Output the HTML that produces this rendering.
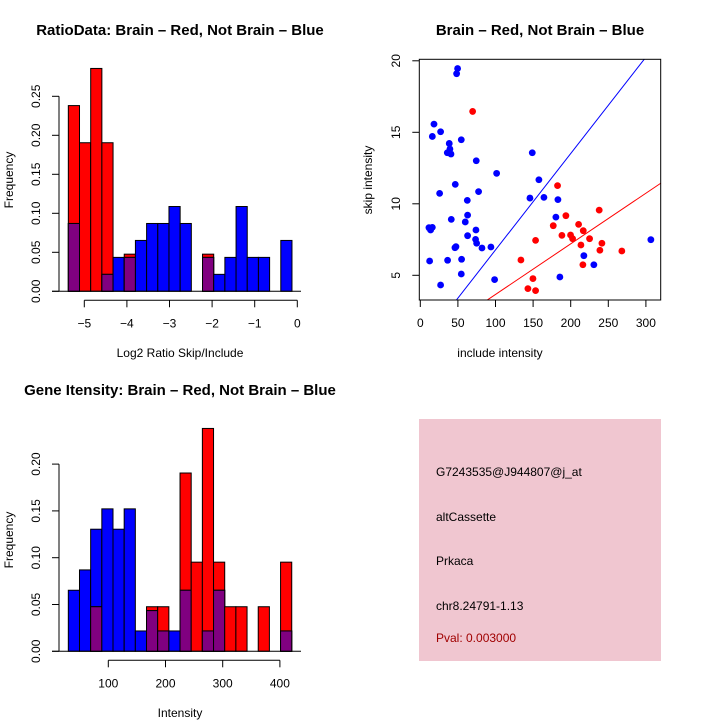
<!DOCTYPE html>
<html><head><meta charset="utf-8"><style>
body{margin:0;background:#fff}
svg{display:block;font-family:"Liberation Sans",sans-serif}
</style></head><body>
<svg id="s" width="720" height="720" viewBox="0 0 720 720">
<text x="180" y="35" font-size="15" font-weight="bold" text-anchor="middle">RatioData: Brain – Red, Not Brain – Blue</text>
<text x="540" y="35" font-size="15" font-weight="bold" text-anchor="middle">Brain – Red, Not Brain – Blue</text>
<text x="180" y="395" font-size="15" font-weight="bold" text-anchor="middle">Gene Itensity: Brain – Red, Not Brain – Blue</text>
<text x="180" y="357" font-size="12" text-anchor="middle">Log2 Ratio Skip/Include</text>
<text x="180" y="717" font-size="12" text-anchor="middle">Intensity</text>
<text x="500" y="357" font-size="12" text-anchor="middle">include intensity</text>
<text transform="translate(13,180) rotate(-90)" font-size="12" text-anchor="middle">Frequency</text>
<text transform="translate(13,540) rotate(-90)" font-size="12" text-anchor="middle">Frequency</text>
<text transform="translate(372,180) rotate(-90)" font-size="12" text-anchor="middle">skip intensity</text>
<rect x="419" y="419" width="242" height="242" fill="#f0c6d0"/>
<g font-size="12">
<text x="436" y="476">G7243535@J944807@j_at</text>
<text x="436" y="521">altCassette</text>
<text x="436" y="565">Prkaca</text>
<text x="436" y="610">chr8.24791-1.13</text>
<text x="436" y="642" fill="#a00000">Pval: 0.003000</text>
</g>
</svg>
<script>
// Ratio histogram data (20 bins)
const ratioBinStart=-5.375, ratioBinWidth=0.2625;
const ratioRed=[5,4,6,4,0,1,0,0,0,0,0,0,1,0,0,0,0,0,0,0].map(v=>v/21);
const ratioBlue=[4,0,0,1,2,2,3,4,4,5,4,0,2,1,2,5,2,2,0,3].map(v=>v/46);
const ratioXTicks=[-5,-4,-3,-2,-1,0];
const ratioYTicks=[0,0.05,0.10,0.15,0.20,0.25];
// Intensity histogram data
const intBinStart=30.1, intBinWidth=19.53;
const intRed=[0,0,1,0,0,0,0,1,1,0,4,2,5,2,1,1,0,1,0,2].map(v=>v/21);
const intBlue=[3,4,6,7,6,7,1,2,1,1,3,0,1,3,0,0,0,0,0,1].map(v=>v/46);
const intXTicks=[100,200,300,400];
const intYTicks=[0,0.05,0.10,0.15,0.20];
// Scatter data
const blueX=[49.6,48.3,18.2,27,16,54.5,38.5,39.4,35.9,40.8,74.4,148.9,101.5,157.7,46.5,25.7,77.5,145.8,164.4,183,62.5,41.2,62.9,59.8,180.3,11.5,16,13.7,74,62.9,73.5,74.9,82,93.9,47.4,46.1,12.4,36.3,54.9,54.5,98.8,27,217.5,230.8,185.6,306.6];
const blueY=[19.46,19.1,15.57,15.04,14.71,14.48,14.22,13.83,13.57,13.48,13.01,13.57,12.13,11.68,11.36,10.73,10.85,10.4,10.45,10.29,10.24,8.91,9.21,8.73,9.07,8.33,8.35,8.17,8.17,7.77,7.51,7.24,6.91,6.98,7.0,6.93,6.0,6.05,6.12,5.09,4.7,4.32,6.37,5.74,4.88,7.49];
const redX=[69.6,182.5,237.9,193.6,176.8,210.5,216.7,188.3,199.8,202.5,225.1,153.3,213.6,241.5,238.8,268,216.2,133.8,149.8,143.1,153.3];
const redY=[16.46,11.27,9.56,9.17,8.47,8.56,8.12,7.79,7.82,7.56,7.56,7.44,7.12,7.24,6.75,6.7,5.74,6.07,4.77,4.07,3.93];
const scatterXTicks=[0,50,100,150,200,250,300];
const scatterYTicks=[5,10,15,20];
const blueFit=[0.0674,0.035], redFit=[0.0354,0.12];

const NS="http://www.w3.org/2000/svg", svg=document.getElementById('s');
function mk(t,a,p){const e=document.createElementNS(NS,t);for(const k in a)e.setAttribute(k,a[k]);(p||svg).appendChild(e);return e;}
function fmt(v){return v===0?"0.00":v.toFixed(2);}

function hist(o){
  const g=mk('g',{});
  
  
  const X=v=>o.x0+(v-o.d0)*o.kx, Y=v=>o.y0-v*o.ky;
  o.red.forEach((r,i)=>{
    const b=o.blue[i], xa=X(o.start+i*o.w), xb=X(o.start+(i+1)*o.w);
    const parts=[];
    if(r>0)parts.push([r,'#ff0000']);
    if(b>0)parts.push([b,'#0000ff']);
    parts.sort((a,c)=>c[0]-a[0]);
    parts.forEach(p=>{
      const e=mk('rect',{x:xa,y:Y(p[0]),width:xb-xa,height:p[0]*o.ky,fill:p[1],stroke:'#000','stroke-width':1},g);
      
      
    });
    if(r>0&&b>0){const m=Math.min(r,b);
      const e=mk('rect',{x:xa,y:Y(m),width:xb-xa,height:m*o.ky,fill:'#800080',stroke:'#000','stroke-width':1},g);
      
      }
  });
  mk('line',{x1:52,x2:301,y1:o.y0,y2:o.y0,stroke:'#000'},g);
  const yt=o.yt;
  mk('line',{x1:59,x2:59,y1:Y(yt[0]),y2:Y(yt[yt.length-1]),stroke:'#000'},g);
  yt.forEach(v=>{mk('line',{x1:52,x2:59,y1:Y(v),y2:Y(v),stroke:'#000'},g);
    const t=mk('text',{transform:`translate(40,${Y(v)}) rotate(-90)`,'font-size':12,'text-anchor':'middle'},g);t.textContent=fmt(v);
    
    });
  const xt=o.xt, ay=o.y0+9;
  mk('line',{x1:X(xt[0]),x2:X(xt[xt.length-1]),y1:ay,y2:ay,stroke:'#000'},g);
  xt.forEach(v=>{mk('line',{x1:X(v),x2:X(v),y1:ay,y2:ay+7,stroke:'#000'},g);
    const t=mk('text',{x:X(v),y:ay+27,'font-size':12,'text-anchor':'middle'},g);t.textContent=String(v).replace('-','−');
    
    });
}
hist({name:'ratio-histogram',red:ratioRed,blue:ratioBlue,start:ratioBinStart,w:ratioBinWidth,x0:297.3,d0:0,kx:42.6,y0:291.3,ky:780,xt:ratioXTicks,yt:ratioYTicks});
hist({name:'intensity-histogram',red:intRed,blue:intBlue,start:intBinStart,w:intBinWidth,x0:108.3,d0:100,kx:0.572,y0:651.3,ky:936,xt:intXTicks,yt:intYTicks});

(function(){
  const g=mk('g',{});
  
  
  const L=419.3,R=660.7,T=59.3,B=300;
  const X=v=>420.3+v*0.752, Y=v=>275.3-(v-5)*14.3;
  const cp=mk('clipPath',{id:'cp'},g);mk('rect',{x:L,y:T,width:R-L,height:B-T},cp);
  [[blueFit,'#0000ff','fit-line-not-brain'],[redFit,'#ff0000','fit-line-brain']].forEach(f=>{
    const e=mk('line',{x1:X(-10),y1:Y(f[0][0]*-10+f[0][1]),x2:X(330),y2:Y(f[0][0]*330+f[0][1]),stroke:f[1],'clip-path':'url(#cp)'},g);
    
    
  });
  blueX.forEach((x,i)=>{const c=mk('circle',{cx:X(x),cy:Y(blueY[i]),r:3.4,fill:'#0000ff'},g);
    
    });
  redX.forEach((x,i)=>{const c=mk('circle',{cx:X(x),cy:Y(redY[i]),r:3.4,fill:'#ff0000'},g);
    
    });
  mk('rect',{x:L,y:T,width:R-L,height:B-T,fill:'none',stroke:'#000'},g);
  scatterXTicks.forEach(v=>{mk('line',{x1:X(v),x2:X(v),y1:B,y2:B+7,stroke:'#000'},g);
    const t=mk('text',{x:X(v),y:B+27,'font-size':12,'text-anchor':'middle'},g);t.textContent=v;
    
    });
  scatterYTicks.forEach(v=>{mk('line',{x1:L-7,x2:L,y1:Y(v),y2:Y(v),stroke:'#000'},g);
    const t=mk('text',{transform:`translate(400,${Y(v)}) rotate(-90)`,'font-size':12,'text-anchor':'middle'},g);t.textContent=v;
    
    });
})();
</script>
</body></html>
